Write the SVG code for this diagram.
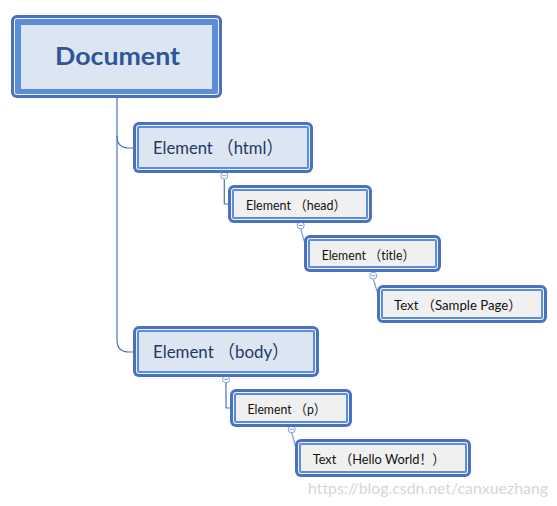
<svg xmlns="http://www.w3.org/2000/svg" width="557" height="506" viewBox="0 0 557 506">
<style>
.o{fill:#4A70C2}
.w{fill:#EEF3FB}
.b{fill:#5B8ED6}
.fb{fill:#DCE6F2}
.fg{fill:#F0F0F0}
.t{font-family:Lato,"Open Sans","Noto Sans CJK SC",sans-serif;font-variant-ligatures:none}
.tl{font-size:18px;fill:#1F3864}
.ts{font-size:13.5px;fill:#111}
.c{fill:none;stroke:#4A72C4;stroke-width:1.2}
.cs{fill:none;stroke:#7FA0D8;stroke-width:1.2}
.k{fill:#fff;stroke:#7F9FD8;stroke-width:1}
.m{stroke:#7F9FD8;stroke-width:1}
</style>
<rect width="557" height="506" fill="#fff"/>
<g id="connectors">
<path class="c" d="M117,98 V340 Q117,352 129,352 H136"/>
<path class="c" d="M117,136 Q117,148 129,148 H136"/>
<path class="c" d="M224.3,179 V204 H231"/>
<path class="cs" d="M300.7,229 L307.5,252"/>
<path class="cs" d="M373.3,279 L381,304"/>
<path class="c" d="M226,383 V408 H233"/>
<path class="cs" d="M291.7,433 L299,458"/>
<g>
<circle class="k" cx="224.3" cy="175.7" r="3.5"/><path class="m" d="M222.3,175.7 H226.3"/>
<circle class="k" cx="300.7" cy="225.5" r="3.5"/><path class="m" d="M298.7,225.5 H302.7"/>
<circle class="k" cx="373.3" cy="275.7" r="3.5"/><path class="m" d="M371.3,275.7 H375.3"/>
<circle class="k" cx="226" cy="379.3" r="3.5"/><path class="m" d="M224,379.3 H228"/>
<circle class="k" cx="291.7" cy="429.3" r="3.5"/><path class="m" d="M289.7,429.3 H293.7"/>
</g>
</g>
<g id="document">
<rect class="o" x="11" y="15" width="211" height="83" rx="6"/>
<rect class="w" x="14" y="18" width="205" height="77" rx="3"/>
<rect class="b" x="15" y="19" width="203" height="75" rx="2"/>
<rect class="fb" x="21" y="25" width="191" height="64"/>
<text class="t" x="55" y="65" font-size="25" font-weight="bold" fill="#2E5596" textLength="125" lengthAdjust="spacingAndGlyphs">Document</text>
</g>
<g id="html">
<rect class="o" x="133" y="122" width="180" height="51" rx="6"/>
<rect class="w" x="136" y="125" width="174" height="45" rx="3"/>
<rect class="b" x="137" y="126" width="172" height="43" rx="2"/>
<rect class="fb" x="139" y="128" width="168" height="39"/>
<text class="t tl" x="153" y="154" textLength="130" lengthAdjust="spacingAndGlyphs">Element （html）</text>
</g>
<g id="head">
<rect class="o" x="228" y="185" width="144" height="38" rx="6"/>
<rect class="w" x="231" y="188" width="138" height="32" rx="3"/>
<rect class="b" x="232" y="189" width="136" height="30" rx="2"/>
<rect class="fg" x="234" y="191" width="132" height="26"/>
<text class="t ts" x="246" y="209.5" textLength="100" lengthAdjust="spacingAndGlyphs">Element （head）</text>
</g>
<g id="title">
<rect class="o" x="304" y="235" width="137" height="37" rx="6"/>
<rect class="w" x="307" y="238" width="131" height="31" rx="3"/>
<rect class="b" x="308" y="239" width="129" height="29" rx="2"/>
<rect class="fg" x="310" y="241" width="125" height="25"/>
<text class="t ts" x="321.7" y="260" textLength="93" lengthAdjust="spacingAndGlyphs">Element （title）</text>
</g>
<g id="samplepage">
<rect class="o" x="377" y="285" width="170" height="38" rx="6"/>
<rect class="w" x="380" y="288" width="164" height="32" rx="3"/>
<rect class="b" x="381" y="289" width="162" height="30" rx="2"/>
<rect class="fg" x="383" y="291" width="158" height="26"/>
<text class="t ts" x="394" y="310" textLength="127.5" lengthAdjust="spacingAndGlyphs">Text （Sample Page）</text>
</g>
<g id="body">
<rect class="o" x="133" y="326" width="186" height="51" rx="6"/>
<rect class="w" x="136" y="329" width="180" height="45" rx="3"/>
<rect class="b" x="137" y="330" width="178" height="43" rx="2"/>
<rect class="fb" x="139" y="332" width="174" height="39"/>
<text class="t tl" x="153" y="358" textLength="136" lengthAdjust="spacingAndGlyphs">Element （body）</text>
</g>
<g id="p">
<rect class="o" x="230" y="389" width="122" height="38" rx="6"/>
<rect class="w" x="233" y="392" width="116" height="32" rx="3"/>
<rect class="b" x="234" y="393" width="114" height="30" rx="2"/>
<rect class="fg" x="236" y="395" width="110" height="26"/>
<text class="t ts" x="247.5" y="414.3" textLength="78.5" lengthAdjust="spacingAndGlyphs">Element （p）</text>
</g>
<g id="helloworld">
<rect class="o" x="295" y="439" width="176" height="38" rx="6"/>
<rect class="w" x="298" y="442" width="170" height="32" rx="3"/>
<rect class="b" x="299" y="443" width="168" height="30" rx="2"/>
<rect class="fg" x="301" y="445" width="164" height="26"/>
<text class="t ts" x="312.7" y="464" textLength="132.3" lengthAdjust="spacingAndGlyphs">Text （Hello World！）</text>
</g>
<text class="t" x="308" y="494" font-size="16" fill="#D6D6D6" textLength="240" lengthAdjust="spacingAndGlyphs">https://blog.csdn.net/canxuezhang</text>
</svg>
